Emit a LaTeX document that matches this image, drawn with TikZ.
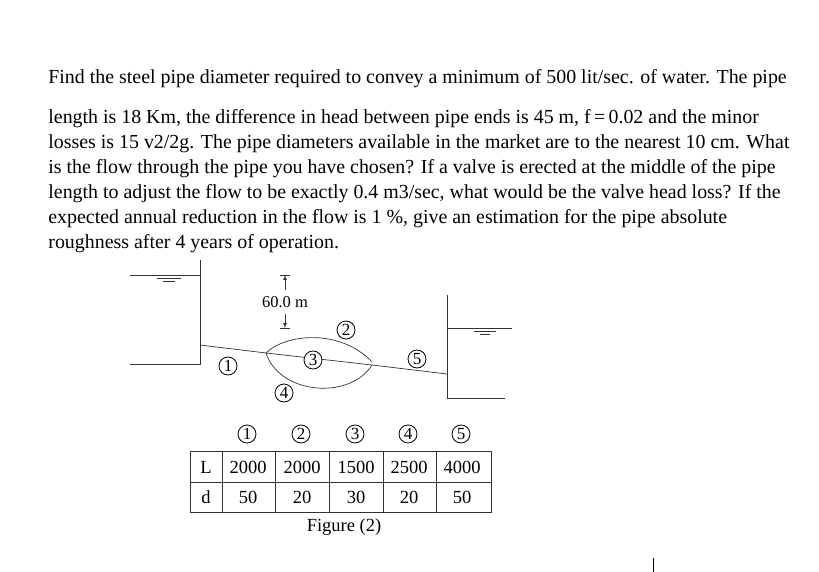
\documentclass[tikz,border=0pt]{standalone}
\usepackage{fontspec}
\setmainfont{Liberation Serif}
\begin{document}
\begin{tikzpicture}[x=1pt,y=-1pt,line width=0.8pt,
  txt/.style={anchor=base west,inner sep=0pt,font=\fontsize{19.9}{22}\selectfont},
  num/.style={circle,draw,line width=0.8pt,inner sep=0pt,minimum size=18pt,font=\fontsize{17}{17}\selectfont},
  cell/.style={font=\fontsize{18.5}{18.5}\selectfont,inner sep=0pt},
  thin/.style={line width=0.7pt,draw=black!80}]
\useasboundingbox (0,0) rectangle (819,572);
\node[txt] (t1) at (48,84) {Find the steel pipe diameter required to convey a minimum of 500 lit/sec. of water. The pipe};
\node[txt] (t2) at (48,124) {length is 18 Km, the difference in head between pipe ends is 45 m, f\,=\,0.02 and the minor};
\node[txt] (t3) at (48,149) {losses is 15 v2/2g. The pipe diameters available in the market are to the nearest 10 cm. What};
\node[txt] (t4) at (48,174) {is the flow through the pipe you have chosen? If a valve is erected at the middle of the pipe};
\node[txt] (t5) at (48,199) {length to adjust the flow to be exactly 0.4 m3/sec, what would be the valve head loss? If the};
\node[txt] (t6) at (48,224) {expected annual reduction in the flow is 1 \%, give an estimation for the pipe absolute};
\node[txt] (t7) at (48,248) {roughness after 4 years of operation.};
% tanks
\draw[thin] (130,275) -- (200,275);
\draw[thin] (200,260) -- (200,364) -- (130,364);
\draw[thin] (157,278) -- (181,278) (163,281) -- (175,281);
\draw[thin] (447,295) -- (447,398) -- (505,398);
\draw[thin] (447,328) -- (512,328);
\draw[thin] (474,331) -- (496,331) (480,334) -- (490,334);
% pipes
\coordinate (P0) at (200,345);
\coordinate (A) at (266,353);
\coordinate (B) at (372,365);
\coordinate (P1) at (447,374);
\draw[thin] (P0) -- (A) -- (B) -- (P1);
\draw[thin] (A) .. controls (285,334) and (340,328) .. (372,362);
\draw[thin] (A) .. controls (280,395) and (350,400) .. (372,365);
% dimension
\draw[thin,-latex] (285,290) -- (285,275);
\draw[thin,-latex] (285,314) -- (285,328);
\draw[thin] (280,275) -- (290,275) (280,328) -- (290,328);
\node[font=\fontsize{16.5}{16.5}\selectfont,fill=white,inner sep=1pt] (dim) at (285,302) {60.0 m};
% labels
\node[num,fill=white] (n1) at (228,366) {1};
\node[num,fill=white] (n2) at (346,330) {2};
\node[num,fill=white] (n3) at (313,360) {3};
\node[num,fill=white] (n4) at (284,393) {4};
\node[num,fill=white] (n5) at (417,359) {5};
% table
\draw[thin] (190,451) rectangle (491,512);
\draw[thin] (190,482) -- (491,482);
\foreach \x in {222,275,329,383,436} \draw[thin] (\x,451) -- (\x,512);
\node[cell] (L) at (206,467) {L};
\node[cell] (d) at (206,497) {d};
\foreach \x/\l/\dd/\n in {248/2000/50/1,302/2000/20/2,356/1500/30/3,409/2500/20/4,462/4000/50/5}{
  \node[cell] at (\x,467) {\l};
  \node[cell] at (\x,497) {\dd};
  \node[num] at (\x-1,434) {\n};
}
\node[cell] (fig) at (344,527) {Figure (2)};
\draw[line width=0.6pt] (653,558) -- (653,572);
\end{tikzpicture}
\end{document}
